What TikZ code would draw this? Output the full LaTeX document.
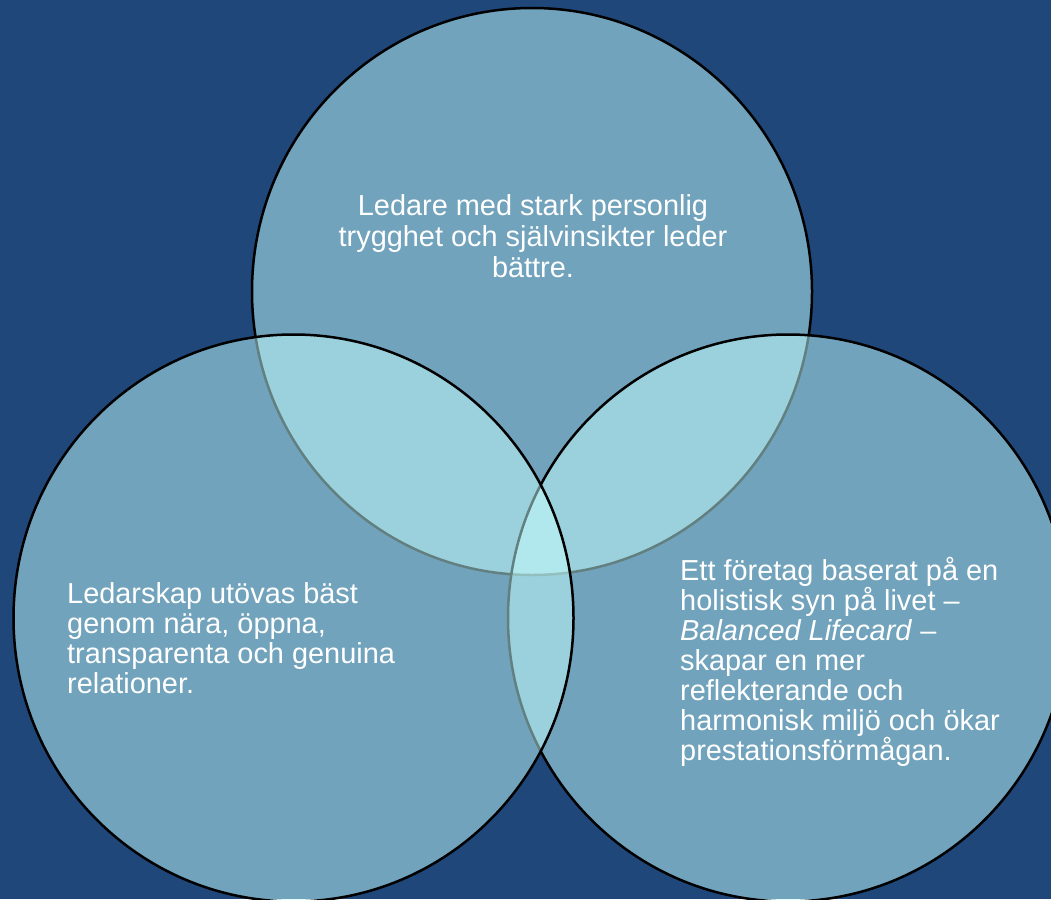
\documentclass[tikz,border=0pt]{standalone}
\usepackage{fontspec}
\setmainfont{Liberation Sans}
\usetikzlibrary{shapes.geometric}
\definecolor{bg}{RGB}{31,71,121}
\definecolor{circfill}{RGB}{197,255,255}
\tikzset{
  venn/.style={ellipse, draw=black, line width=2.5pt, fill=circfill, fill opacity=0.5,
    minimum width=560pt, minimum height=567pt, inner sep=0pt},
  lbl/.style={text=white, inner sep=0pt, font=\fontsize{28.9}{30}\selectfont}
}
\begin{document}
\begin{tikzpicture}[x=1pt,y=-1pt]
\fill[bg] (0,0) rectangle (1051,899);
\useasboundingbox (0,0) rectangle (1051,899);
\node[venn] (top) at (532,291.5) {};
\node[venn] (right) at (788,618) {};
\node[venn] (left) at (293.5,618) {};
\node[lbl, align=center, anchor=north, font=\fontsize{28.9}{31}\selectfont] (ttop) at (533,194)
  {Ledare med stark personlig\\trygghet och självinsikter leder\\bättre.};
\node[lbl, align=left, anchor=north west] (tleft) at (67,582)
  {Ledarskap utövas bäst\\genom nära, öppna,\\transparenta och genuina\\relationer.};
\node[lbl, align=left, anchor=north west] (tright) at (680,557)
  {Ett företag baserat på en\\holistisk syn på livet –\\\textit{Balanced Lifecard} –\\skapar en mer\\reflekterande och\\harmonisk miljö och ökar\\prestationsförmågan.};
\end{tikzpicture}
\end{document}
